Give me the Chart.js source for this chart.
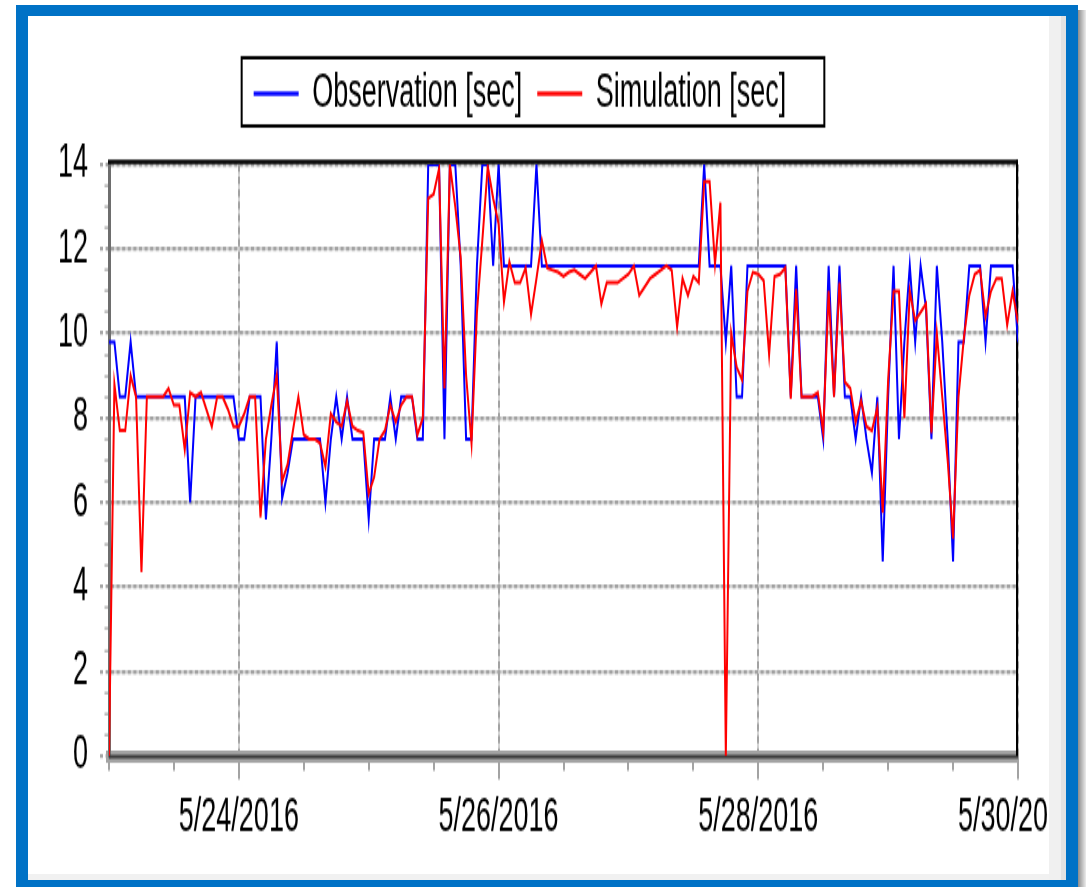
<!DOCTYPE html>
<html>
<head>
<meta charset="utf-8">
<title>Observation vs Simulation</title>
<script src="https://cdn.jsdelivr.net/npm/chart.js@4.4.1/dist/chart.umd.min.js"></script>
<style>
  html, body { margin: 0; padding: 0; background: #fff; }
  body { width: 1086px; height: 887px; position: relative; overflow: hidden; }
  /* the reference is a vertically stretched screenshot, so the chart is drawn flat and stretched */
  #stage { position: absolute; left: 0; top: 0; width: 1086px; height: 507px; transform: scaleY(1.7495); transform-origin: 0 0; }
  #frame { position: absolute; left: 16px; top: 5px; width: 1062px; height: 882px; box-sizing: border-box;
           border: solid #0072c6; border-width: 11px 12px 7px 12px; }
  #strip { position: absolute; left: 1049px; top: 16px; width: 12px; height: 864px; background: #f0f0f0; border-right: 5px solid #e2e2e2; }
  #foot { position: absolute; left: 28px; top: 874px; width: 1021px; height: 6px; background: #f1f1f1; }
  #shadow { position: absolute; left: 1078px; top: 10px; width: 8px; height: 877px; background: linear-gradient(to right, #8c8c8c, #ececec); }
</style>
</head>
<body>
<div id="stage"><canvas id="chart" width="1086" height="507"></canvas></div>
<div id="frame"></div>
<div id="strip"></div>
<div id="foot"></div>
<div id="shadow"></div>
<script>
// hourly samples starting 5/23/2016 00:00
const seriesNames = ['Observation [sec]', 'Simulation [sec]'];
const seriesColors = ['#0000ff', '#ff0000'];

const observation = [
  9.8, 9.8, 8.5, 8.5, 9.8, 8.5, 8.5, 8.5, 8.5, 8.5, 8.5, 8.5, 8.5, 8.5, 8.5, 6.0,
  8.5, 8.5, 8.5, 8.5, 8.5, 8.5, 8.5, 8.5, 7.5, 7.5, 8.5, 8.5, 8.5, 5.6, 7.5, 9.8,
  6.1, 6.7, 7.5, 7.5, 7.5, 7.5, 7.5, 7.5, 6.0, 7.5, 8.5, 7.5, 8.5, 7.5, 7.5, 7.5,
  5.6, 7.5, 7.5, 7.5, 8.5, 7.5, 8.5, 8.5, 8.5, 7.5, 7.5, 14, 14, 14, 7.5, 14,
  14, 11.6, 7.5, 7.5, 11.6, 14, 14, 11.6, 14, 11.6, 11.6, 11.6, 11.6, 11.6, 11.6, 14,
  11.6, 11.6, 11.6, 11.6, 11.6, 11.6, 11.6, 11.6, 11.6, 11.6, 11.6, 11.6, 11.6, 11.6, 11.6, 11.6,
  11.6, 11.6, 11.6, 11.6, 11.6, 11.6, 11.6, 11.6, 11.6, 11.6, 11.6, 11.6, 11.6, 11.6, 14, 11.6,
  11.6, 11.6, 9.8, 11.6, 8.5, 8.5, 11.6, 11.6, 11.6, 11.6, 11.6, 11.6, 11.6, 11.6, 8.5, 11.6,
  8.5, 8.5, 8.5, 8.5, 7.5, 11.6, 8.5, 11.6, 8.5, 8.5, 7.5, 8.5, 7.5, 6.7, 8.5, 4.6,
  8.5, 11.6, 7.5, 9.8, 11.6, 9.8, 11.6, 10.6, 7.5, 11.6, 9.8, 7.5, 4.6, 9.8, 9.8, 11.6,
  11.6, 11.6, 9.8, 11.6, 11.6, 11.6, 11.6, 11.6, 9.8
];

const simulation = [
  0, 8.8, 7.7, 7.7, 9.0, 8.5, 4.35, 8.5, 8.5, 8.5, 8.5, 8.7, 8.3, 8.3, 7.25, 8.6,
  8.5, 8.6, 8.2, 7.8, 8.5, 8.5, 8.2, 7.8, 7.8, 8.1, 8.5, 8.5, 5.65, 7.5, 8.3, 9.0,
  6.5, 6.9, 7.7, 8.5, 7.6, 7.5, 7.5, 7.4, 6.85, 8.1, 7.9, 7.8, 8.4, 7.8, 7.7, 7.65,
  6.2, 6.6, 7.5, 7.7, 8.3, 7.9, 8.3, 8.5, 8.5, 7.6, 8.0, 13.2, 13.3, 13.9, 8.7, 14.0,
  13.0, 11.8, 9.0, 7.4, 10.5, 12.2, 13.95, 13.2, 12.6, 10.75, 11.7, 11.2, 11.2, 11.55, 10.45, 11.3,
  12.2, 11.55, 11.5, 11.45, 11.35, 11.45, 11.5, 11.4, 11.3, 11.45, 11.6, 10.7, 11.2, 11.2, 11.2, 11.3,
  11.4, 11.6, 10.9, 11.1, 11.3, 11.4, 11.5, 11.6, 11.5, 10.15, 11.3, 10.9, 11.35, 11.2, 13.6, 13.6,
  11.65, 13.1, 0, 10.0, 9.2, 8.9, 11.0, 11.45, 11.4, 11.25, 9.5, 11.35, 11.4, 11.55, 8.45, 11.05,
  8.5, 8.5, 8.5, 8.6, 7.65, 11.0, 8.5, 11.2, 8.85, 8.7, 7.9, 8.4, 7.8, 7.7, 8.25, 5.75,
  8.9, 11.0, 11.0, 8.0, 11.0, 10.3, 10.5, 10.7, 7.65, 10.0, 8.5, 7.0, 5.15, 8.5, 9.9, 10.9,
  11.4, 11.5, 10.4, 11.0, 11.3, 11.3, 10.2, 11.0, 10.25
];

// x axis: hours since 5/23/2016 00:00
const labelHours = [24, 72, 120, 168];
const dateLabels = ['5/24/2016', '5/26/2016', '5/28/2016', '5/30/2016'];
const yLabels = [0, 2, 4, 6, 8, 10, 12, 14];

const FONT = { family: "'Liberation Sans', Arial, sans-serif", size: 27 };
const CLEAR = 'rgba(0,0,0,0)';
const isDateTick = c => !!c.tick && labelHours.includes(c.tick.value);
const isValueTick = c => !!c.tick && yLabels.includes(c.tick.value);

// extra room between legend and plot
const legendSpacer = {
  id: 'legendSpacer',
  afterInit(chart) {
    const legend = chart.legend;
    const fit = legend.fit;
    legend.fit = function () { fit.call(this); this.height += 17; };
  }
};

// black plot border, dark axis line and the legend box
const plotFrame = {
  id: 'plotFrame',
  beforeDatasetsDraw(chart) {
    const { ctx, chartArea: a } = chart;
    ctx.save();
    ctx.strokeStyle = '#3a3a3a';
    ctx.lineWidth = 2.2;
    ctx.beginPath(); ctx.moveTo(a.left, a.bottom + 0.5); ctx.lineTo(a.right, a.bottom + 0.5); ctx.stroke();
    ctx.strokeStyle = '#000';
    ctx.lineWidth = 2.3;
    ctx.beginPath(); ctx.moveTo(a.left - 1, a.top - 1.5); ctx.lineTo(a.right, a.top - 1.5); ctx.stroke();
    ctx.lineWidth = 2;
    ctx.beginPath(); ctx.moveTo(a.right - 1, a.top - 2.6); ctx.lineTo(a.right - 1, a.bottom); ctx.stroke();
    ctx.restore();
  },
  afterDraw(chart) {
    const boxes = chart.legend.legendHitBoxes;
    if (!boxes || !boxes.length) return;
    const first = boxes[0], last = boxes[boxes.length - 1];
    const l = first.left - 12, r = last.left + last.width + 38;
    const t = first.top - 7, b = first.top + first.height + 5;
    const ctx = chart.ctx;
    ctx.save();
    ctx.strokeStyle = '#000';
    ctx.lineWidth = 2;
    ctx.strokeRect(l, t, r - l, b - t);
    ctx.restore();
  }
};

new Chart(document.getElementById('chart'), {
  type: 'line',
  data: {
    datasets: [
      {
        label: seriesNames[0],
        data: observation.map((v, i) => ({ x: i, y: v })),
        borderColor: seriesColors[0], backgroundColor: seriesColors[0],
        borderWidth: 2, pointRadius: 0, tension: 0, order: 1
      },
      {
        label: seriesNames[1],
        data: simulation.map((v, i) => ({ x: i, y: v })),
        borderColor: seriesColors[1], backgroundColor: seriesColors[1],
        borderWidth: 2, pointRadius: 0, tension: 0, order: 0
      }
    ]
  },
  options: {
    responsive: false,
    animation: false,
    devicePixelRatio: 1,
    events: [],
    layout: { padding: { left: 22, right: 68, top: 25, bottom: 0 } },
    plugins: {
      tooltip: { enabled: false },
      legend: {
        position: 'top',
        labels: {
          color: '#000', font: FONT, boxWidth: 45, boxHeight: 2.3, padding: 15,
          sort: (a, b) => a.datasetIndex - b.datasetIndex,
          generateLabels: c => Chart.defaults.plugins.legend.labels.generateLabels(c)
            .map(item => Object.assign(item, { lineWidth: 0 }))
        }
      }
    },
    scales: {
      x: {
        type: 'linear', position: 'bottom', min: 0, max: 168,
        afterFit: s => { s.height = 75; },
        ticks: {
          stepSize: 12, autoSkip: false, maxRotation: 0, minRotation: 0, padding: 6,
          color: '#000', font: FONT,
          callback: v => { const k = labelHours.indexOf(v); return k < 0 ? '' : dateLabels[k]; }
        },
        grid: {
          color: c => isDateTick(c) ? '#a2a2a2' : CLEAR,
          lineWidth: 2, tickLength: 13.5, tickColor: '#a3a3a3', tickWidth: 2,
          tickBorderDash: c => isDateTick(c) ? [] : [4.5, 100]
        },
        border: { color: '#a3a3a3', width: 7, dash: [4.2, 2.9] }
      },
      x2: {
        type: 'linear', position: 'bottom', min: 0, max: 168,
        afterFit: s => { s.height = 0; },
        ticks: { display: false, stepSize: 12 },
        grid: { color: c => isDateTick(c) ? '#d3d3d3' : CLEAR, lineWidth: 2, drawTicks: false, z: -2 },
        border: { display: false }
      },
      y: {
        type: 'linear', position: 'left', min: 0, max: 14,
        afterFit: s => { s.width = 87; },
        ticks: {
          stepSize: 0.5, autoSkip: false, padding: 12, color: '#000', font: FONT,
          callback: v => yLabels.includes(v) ? String(v) : ''
        },
        grid: {
          color: c => isValueTick(c) ? '#a2a2a2' : CLEAR,
          lineWidth: 2.2, tickLength: 9, tickColor: '#a6a6a6',
          tickWidth: c => isValueTick(c) ? 2.2 : 1.1,
          tickBorderDash: c => isValueTick(c) ? [3, 2.6] : [0, 4.5, 3.5, 100]
        },
        border: { color: '#6e6e6e', width: 3, dash: [3, 2.6] }
      },
      y2: {
        type: 'linear', position: 'right', min: 0, max: 14,
        afterFit: s => { s.width = 0; },
        ticks: { display: false, stepSize: 2 },
        grid: { color: '#d3d3d3', lineWidth: 2.2, drawTicks: false, z: -2 },
        border: { display: false }
      }
    }
  },
  plugins: [legendSpacer, plotFrame]
});
</script>
</body>
</html>
